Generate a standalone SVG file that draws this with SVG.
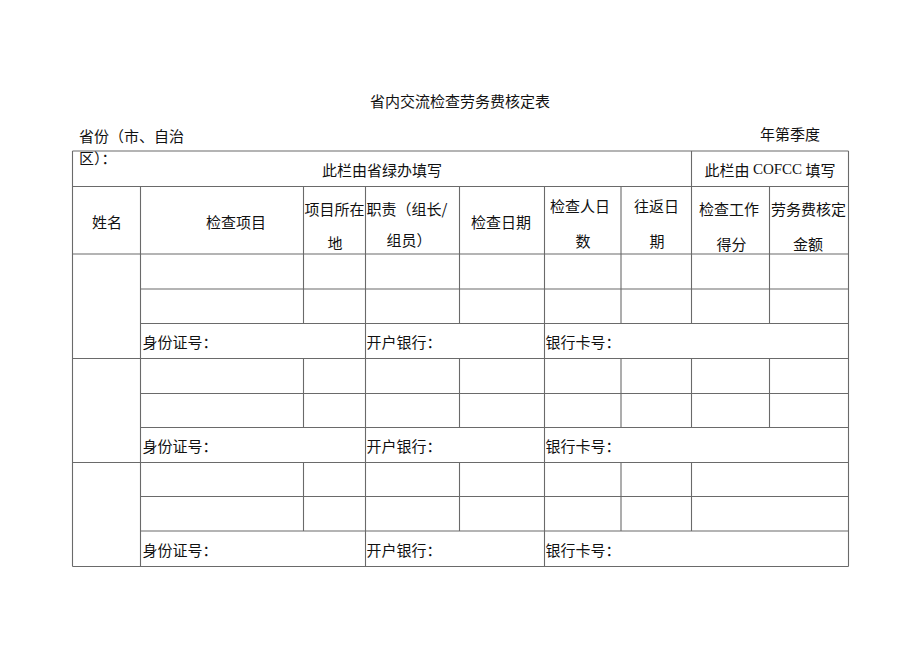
<svg xmlns="http://www.w3.org/2000/svg" width="920" height="651" viewBox="0 0 920 651">
<style>
text{font-family:"Noto Sans CJK SC","Liberation Sans",sans-serif;font-size:15px;fill:#111;dominant-baseline:central}
.c{text-anchor:middle}
.s{font-family:"Liberation Serif","Noto Sans CJK SC",serif}
.g line{stroke:#6a6a6a;stroke-width:1.1}
</style>
<rect width="920" height="651" fill="#fff"/>
<g id="title">
<text class="c" x="460" y="100">省内交流检查劳务费核定表</text>
</g>
<g id="meta">
<text x="79" y="135">省份（市、自治</text>
<text x="79" y="157">区）：</text>
<text x="760" y="135" class="s">年第季度</text>
</g>
<g id="grid" class="g">
<line x1="72.5" y1="151" x2="848.5" y2="151"/>
<line x1="72.5" y1="566.5" x2="848.5" y2="566.5"/>
<line x1="72.5" y1="151" x2="72.5" y2="566.5"/>
<line x1="848.5" y1="151" x2="848.5" y2="566.5"/>
<line x1="72.5" y1="186.5" x2="848.5" y2="186.5"/>
<line x1="691.5" y1="151" x2="691.5" y2="186.5"/>
<line x1="72.5" y1="254" x2="848.5" y2="254"/>
<line x1="72.5" y1="358.5" x2="848.5" y2="358.5"/>
<line x1="72.5" y1="462.5" x2="848.5" y2="462.5"/>
<line x1="140.5" y1="289" x2="848.5" y2="289"/>
<line x1="140.5" y1="323.5" x2="848.5" y2="323.5"/>
<line x1="140.5" y1="393.5" x2="848.5" y2="393.5"/>
<line x1="140.5" y1="427.5" x2="848.5" y2="427.5"/>
<line x1="140.5" y1="496.5" x2="848.5" y2="496.5"/>
<line x1="140.5" y1="531" x2="848.5" y2="531"/>
<line x1="140.5" y1="186.5" x2="140.5" y2="566.5"/>
<line x1="303.5" y1="186.5" x2="303.5" y2="254"/>
<line x1="365.5" y1="186.5" x2="365.5" y2="254"/>
<line x1="459.5" y1="186.5" x2="459.5" y2="254"/>
<line x1="544.5" y1="186.5" x2="544.5" y2="254"/>
<line x1="621" y1="186.5" x2="621" y2="254"/>
<line x1="691.5" y1="186.5" x2="691.5" y2="254"/>
<line x1="769.5" y1="186.5" x2="769.5" y2="254"/>
<line x1="303.5" y1="254" x2="303.5" y2="323.5"/>
<line x1="365.5" y1="254" x2="365.5" y2="358.5"/>
<line x1="459.5" y1="254" x2="459.5" y2="323.5"/>
<line x1="544.5" y1="254" x2="544.5" y2="358.5"/>
<line x1="621" y1="254" x2="621" y2="323.5"/>
<line x1="691.5" y1="254" x2="691.5" y2="323.5"/>
<line x1="769.5" y1="254" x2="769.5" y2="323.5"/>
<line x1="303.5" y1="358.5" x2="303.5" y2="427.5"/>
<line x1="365.5" y1="358.5" x2="365.5" y2="462.5"/>
<line x1="459.5" y1="358.5" x2="459.5" y2="427.5"/>
<line x1="544.5" y1="358.5" x2="544.5" y2="462.5"/>
<line x1="621" y1="358.5" x2="621" y2="427.5"/>
<line x1="691.5" y1="358.5" x2="691.5" y2="427.5"/>
<line x1="769.5" y1="358.5" x2="769.5" y2="427.5"/>
<line x1="303.5" y1="462.5" x2="303.5" y2="531"/>
<line x1="365.5" y1="462.5" x2="365.5" y2="566.5"/>
<line x1="459.5" y1="462.5" x2="459.5" y2="531"/>
<line x1="544.5" y1="462.5" x2="544.5" y2="566.5"/>
<line x1="621" y1="462.5" x2="621" y2="531"/>
<line x1="691.5" y1="462.5" x2="691.5" y2="531"/>
</g>
<g id="header1">
<text class="c" x="382" y="169">此栏由省绿办填写</text>
<text class="c" x="770" y="169">此栏由 <tspan class="s">COFCC</tspan> 填写</text>
</g>
<g id="header2">
<text class="c" x="107" y="221">姓名</text>
<text class="c" x="236" y="221">检查项目</text>
<text class="c" x="334.5" y="208">项目所在</text>
<text class="c" x="335" y="242">地</text>
<text x="366.5" y="208">职责（组长/</text>
<text class="c" x="409" y="239">组员）</text>
<text class="c" x="501" y="221">检查日期</text>
<text class="c" x="580" y="205">检查人日</text>
<text class="c" x="583" y="240">数</text>
<text class="c" x="656.5" y="205">往返日</text>
<text class="c" x="657" y="240">期</text>
<text class="c" x="729" y="208">检查工作</text>
<text class="c" x="731.5" y="243">得分</text>
<text class="c" x="808.5" y="208">劳务费核定</text>
<text class="c" x="808" y="243">金额</text>
</g>
<g id="block1">
<text x="142.5" y="341.5">身份证号：</text>
<text x="366.5" y="341.5">开户银行：</text>
<text x="545.5" y="341.5">银行卡号：</text>
</g>
<g id="block2">
<text x="142.5" y="445.5">身份证号：</text>
<text x="366.5" y="445.5">开户银行：</text>
<text x="545.5" y="445.5">银行卡号：</text>
</g>
<g id="block3">
<text x="142.5" y="549">身份证号：</text>
<text x="366.5" y="549">开户银行：</text>
<text x="545.5" y="549">银行卡号：</text>
</g>
</svg>
